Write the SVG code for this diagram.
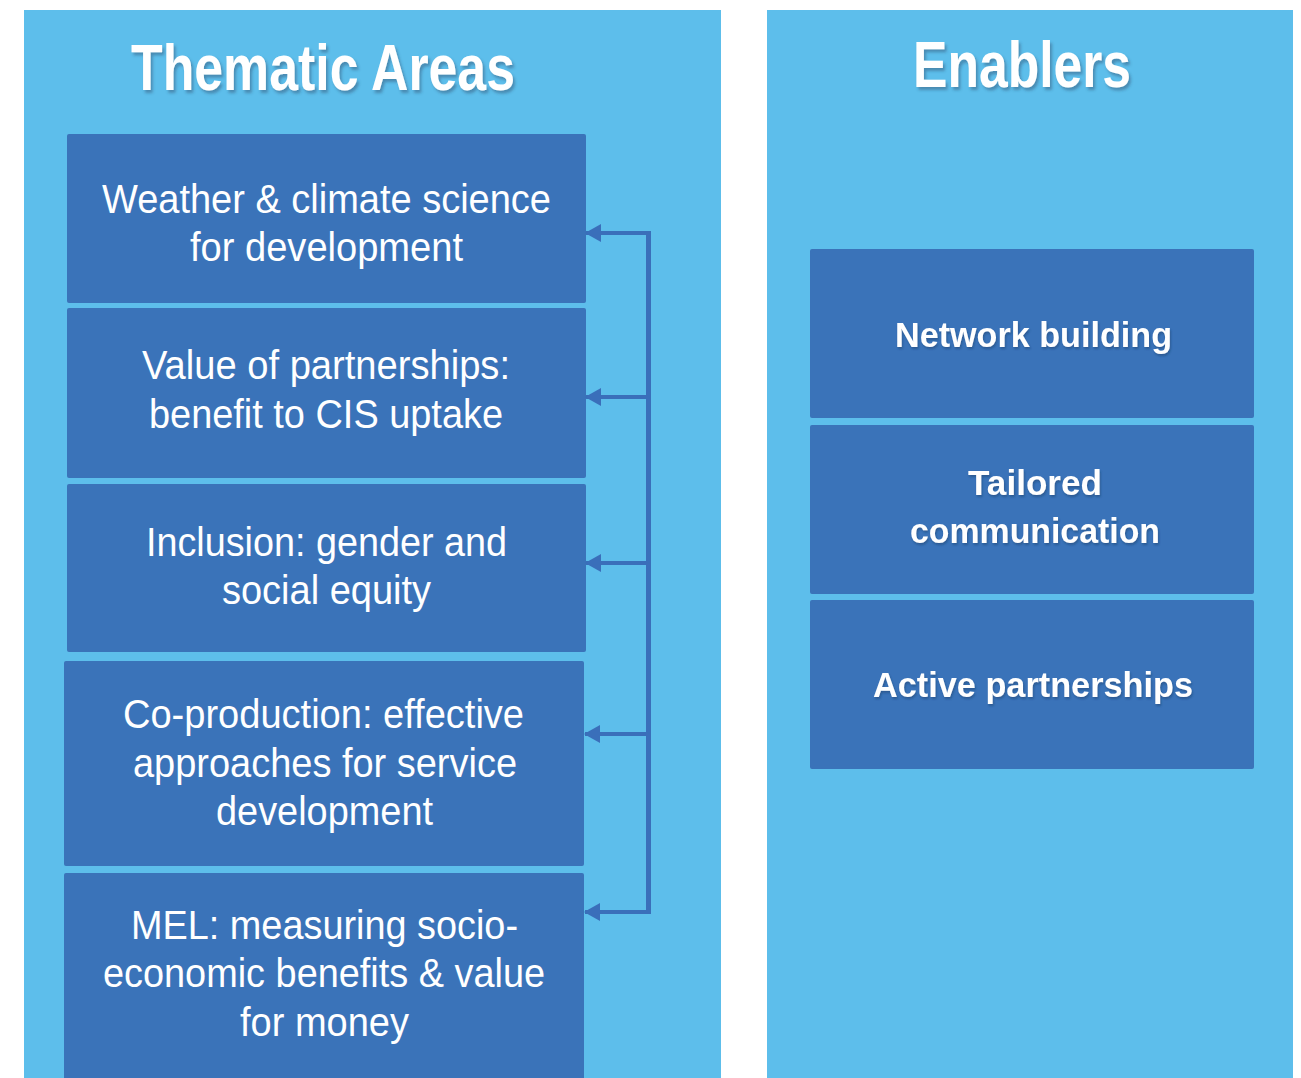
<svg xmlns="http://www.w3.org/2000/svg" width="1301" height="1078" viewBox="0 0 1301 1078">
<defs>
<style>
.panel{fill:#5DBEEB}
.box{fill:#3A73B9}
.title{font-family:"Liberation Sans",Arial,sans-serif;font-weight:bold;font-size:64px;fill:#ffffff;text-anchor:middle;filter:url(#sh)}
.t{font-family:"Liberation Sans",Arial,sans-serif;font-size:41px;fill:#ffffff;text-anchor:middle}
.e{font-family:"Liberation Sans",Arial,sans-serif;font-weight:bold;font-size:35px;fill:#ffffff;text-anchor:middle;filter:url(#sh2)}
.conn{stroke:#3A6FBA;fill:none}
</style>
<filter id="sh" x="-10%" y="-20%" width="120%" height="150%">
<feDropShadow dx="2" dy="3" stdDeviation="1.5" flood-color="#2a4a6a" flood-opacity="0.45"/>
</filter>
<filter id="sh2" x="-10%" y="-20%" width="120%" height="150%">
<feDropShadow dx="1" dy="2" stdDeviation="1" flood-color="#1e3a60" flood-opacity="0.45"/>
</filter>
<marker id="ah" markerWidth="16" markerHeight="18" refX="15" refY="9" orient="auto" markerUnits="userSpaceOnUse">
<path d="M0,0 L16,9 L0,18 Z" fill="#3A6FBA"/>
</marker>
</defs>

<rect class="panel" x="24" y="10" width="697" height="1068"/>
<rect class="panel" x="767" y="10" width="526" height="1068"/>

<text class="title" x="323" y="90" textLength="384" lengthAdjust="spacingAndGlyphs">Thematic Areas</text>
<text class="title" x="1022" y="87" textLength="218" lengthAdjust="spacingAndGlyphs">Enablers</text>

<g id="theme1">
<rect class="box" x="67" y="134" width="519" height="169" rx="2"/>
<text class="t" x="326.5" y="213" textLength="449" lengthAdjust="spacingAndGlyphs">Weather &amp; climate science</text>
<text class="t" x="326.5" y="261" textLength="273" lengthAdjust="spacingAndGlyphs">for development</text>
</g>
<g id="theme2">
<rect class="box" x="67" y="308" width="519" height="170" rx="2"/>
<text class="t" x="326" y="379" textLength="368" lengthAdjust="spacingAndGlyphs">Value of partnerships:</text>
<text class="t" x="326" y="428" textLength="354" lengthAdjust="spacingAndGlyphs">benefit to CIS uptake</text>
</g>
<g id="theme3">
<rect class="box" x="67" y="484" width="519" height="168" rx="2"/>
<text class="t" x="326.5" y="556" textLength="361" lengthAdjust="spacingAndGlyphs">Inclusion: gender and</text>
<text class="t" x="326.5" y="604" textLength="209" lengthAdjust="spacingAndGlyphs">social equity</text>
</g>
<g id="theme4">
<rect class="box" x="64" y="661" width="520" height="205" rx="2"/>
<text class="t" x="323.5" y="728" textLength="401" lengthAdjust="spacingAndGlyphs">Co-production: effective</text>
<text class="t" x="325" y="777" textLength="384" lengthAdjust="spacingAndGlyphs">approaches for service</text>
<text class="t" x="324.5" y="825" textLength="217" lengthAdjust="spacingAndGlyphs">development</text>
</g>
<g id="theme5">
<rect class="box" x="64" y="873" width="520" height="215" rx="2"/>
<text class="t" x="324.5" y="939" textLength="387" lengthAdjust="spacingAndGlyphs">MEL: measuring socio-</text>
<text class="t" x="324" y="987" textLength="442" lengthAdjust="spacingAndGlyphs">economic benefits &amp; value</text>
<text class="t" x="324.5" y="1036" textLength="169" lengthAdjust="spacingAndGlyphs">for money</text>
</g>

<g id="enabler1">
<rect class="box" x="810" y="249" width="444" height="169" rx="2"/>
<text class="e" x="1033.5" y="347" textLength="277" lengthAdjust="spacingAndGlyphs">Network building</text>
</g>
<g id="enabler2">
<rect class="box" x="810" y="425" width="444" height="169" rx="2"/>
<text class="e" x="1035" y="495" textLength="134" lengthAdjust="spacingAndGlyphs">Tailored</text>
<text class="e" x="1035" y="543" textLength="250" lengthAdjust="spacingAndGlyphs">communication</text>
</g>
<g id="enabler3">
<rect class="box" x="810" y="600" width="444" height="169" rx="2"/>
<text class="e" x="1033" y="697" textLength="320" lengthAdjust="spacingAndGlyphs">Active partnerships</text>
</g>

<g id="connectors">
<path class="conn" stroke-width="5" d="M648.5,231 L648.5,914"/>
<path class="conn" stroke-width="4" d="M650,233 L586,233" marker-end="url(#ah)"/>
<path class="conn" stroke-width="4" d="M650,397 L586,397" marker-end="url(#ah)"/>
<path class="conn" stroke-width="4" d="M650,563 L586,563" marker-end="url(#ah)"/>
<path class="conn" stroke-width="4" d="M650,734 L585,734" marker-end="url(#ah)"/>
<path class="conn" stroke-width="4" d="M650,912 L585,912" marker-end="url(#ah)"/>
</g>
</svg>
